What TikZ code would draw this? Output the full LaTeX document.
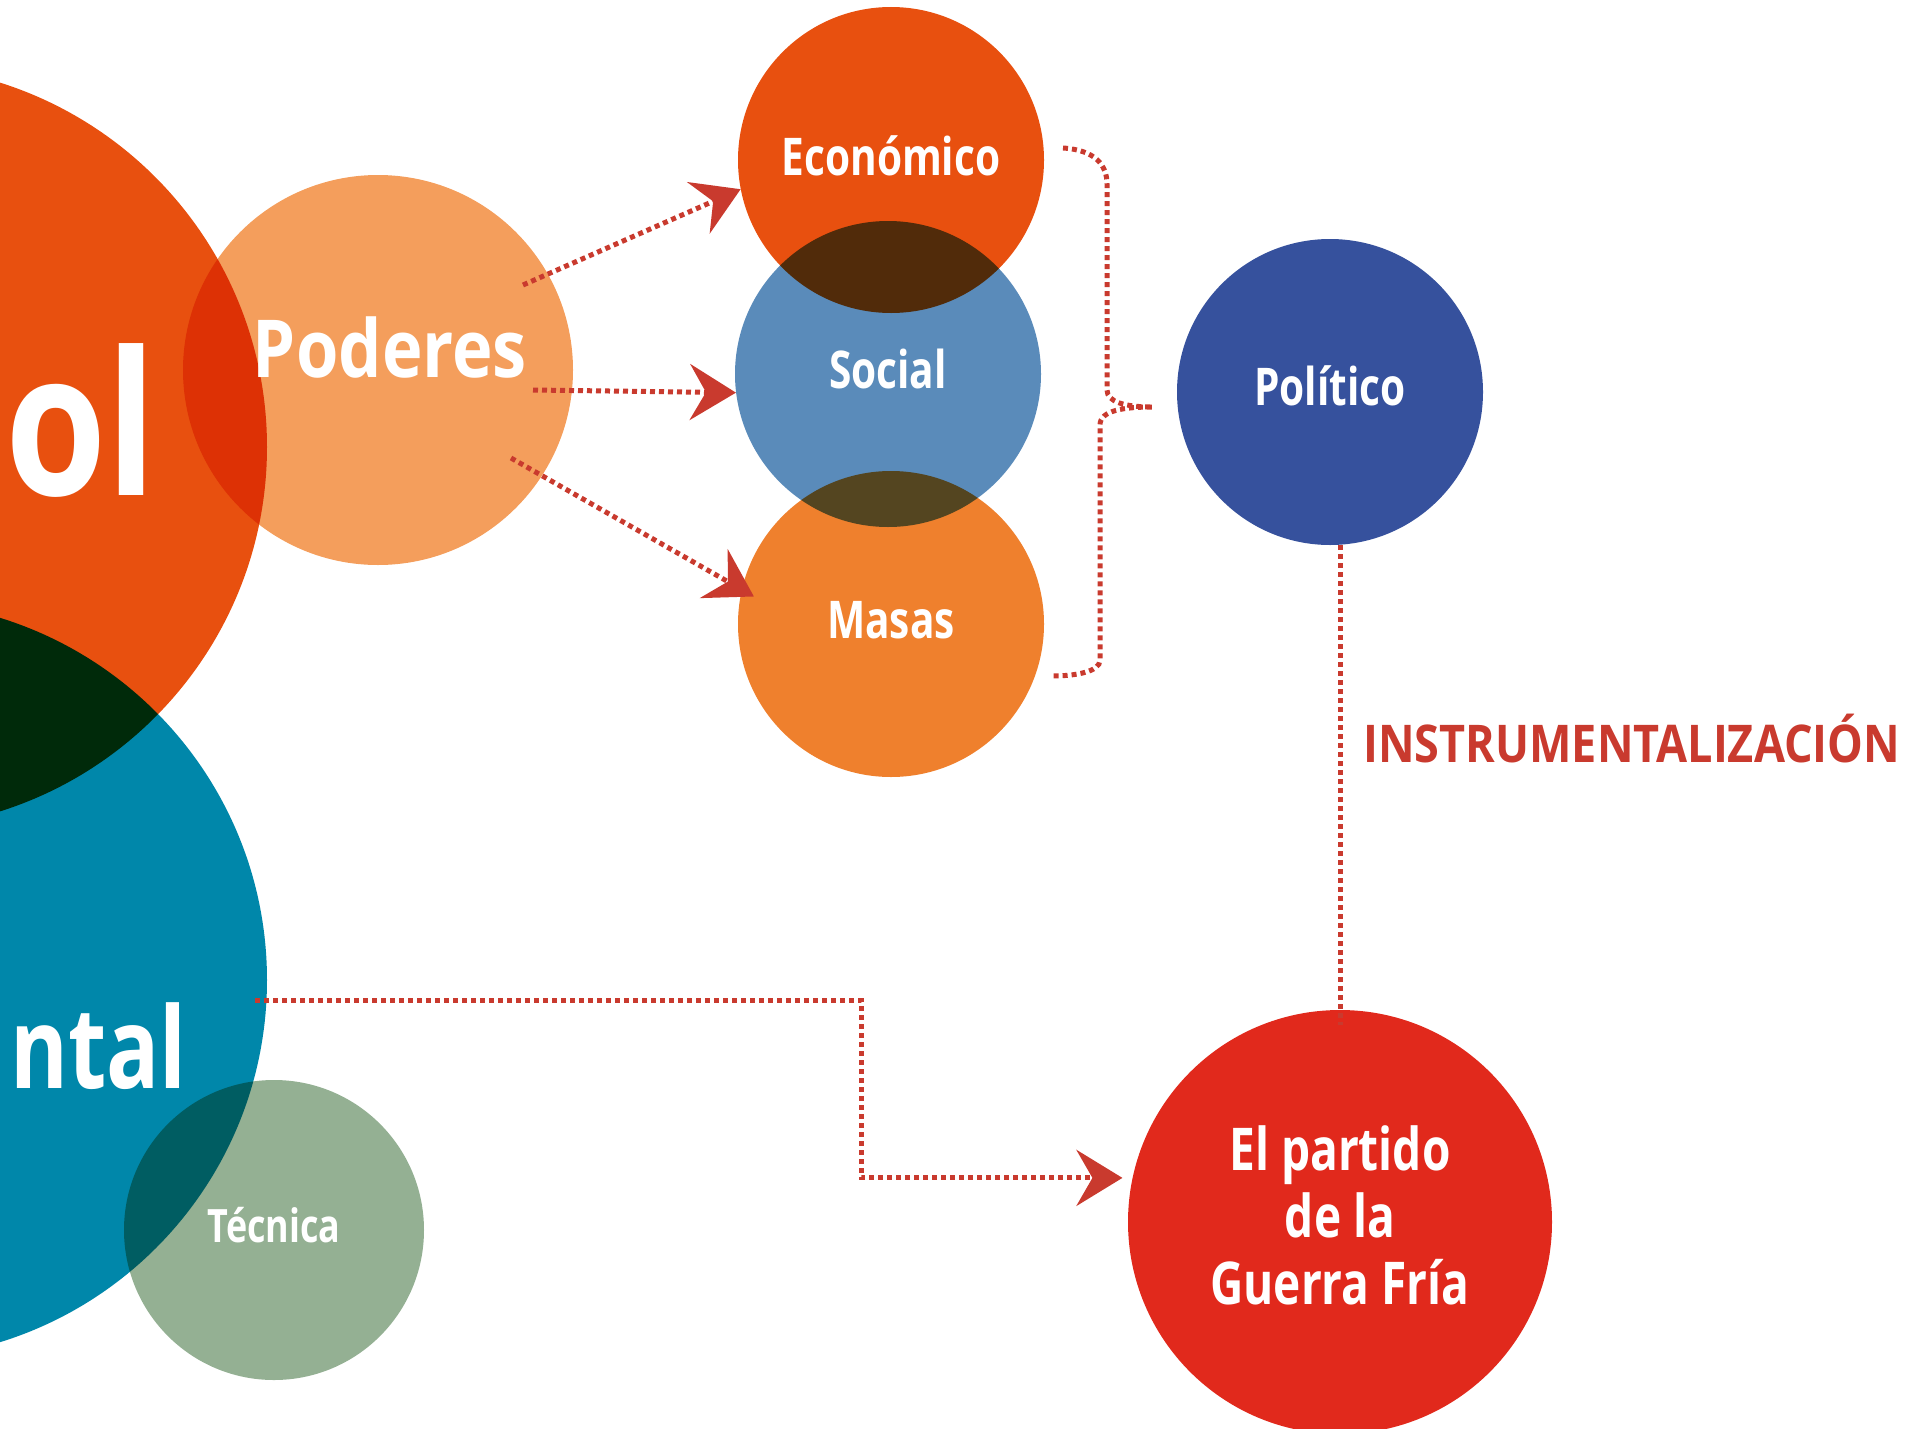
\documentclass[tikz,border=0pt]{standalone}
\usepackage{fontspec}
\setmainfont{Open Sans}[FakeStretch=0.78]
\usepackage{tikz}
\usetikzlibrary{arrows.meta, positioning}

\definecolor{ctrlorange}{HTML}{E8500F}
\definecolor{ctrlblue}{HTML}{0087AA}
\definecolor{poderes}{HTML}{F49E5C}
\definecolor{economico}{HTML}{E8500F}
\definecolor{social}{HTML}{5A8BBA}
\definecolor{masas}{HTML}{EF802D}
\definecolor{politico}{HTML}{36519D}
\definecolor{guerra}{HTML}{E1291C}
\definecolor{tecnica}{HTML}{94B093}
\definecolor{linkred}{HTML}{C93A2E}

\begin{document}
\begin{tikzpicture}[x=1pt, y=-1pt,
    bubble/.style={circle, inner sep=0pt, minimum size=#1},
    lbl/.style={text=white, inner sep=0pt, anchor=base, font=\bfseries\fontsize{#1}{#1}\selectfont},
    dotlink/.style={draw=linkred, line width=5pt, dash pattern=on 5pt off 4pt},
    dotarrow/.style={dotlink, -{Stealth[length=46pt, width=56pt, inset=16pt]}}]
    \useasboundingbox (0,0) rectangle (1911,1429);
    \clip (0,0) rectangle (1911,1429);

    \begin{scope}[blend mode=multiply]
        \node[bubble=764pt, fill=ctrlorange] (ctrl) at (-115,447) {};
        \node[bubble=758pt, fill=ctrlblue] (instr) at (-112,980) {};
        \node[bubble=390pt, fill=poderes] (pod) at (378,370) {};
        \node[bubble=300pt, fill=tecnica] (tec) at (274,1230) {};
        \node[bubble=306pt, fill=economico] (eco) at (891,160) {};
        \node[bubble=306pt, fill=social] (soc) at (888,374) {};
        \node[bubble=306pt, fill=masas] (mas) at (891,624) {};
        \node[bubble=306pt, fill=politico] (pol) at (1330,392) {};
        \node[bubble=424pt, fill=guerra] (gue) at (1340,1222) {};
    \end{scope}

    \node[lbl=200, anchor=base east] (ctrlT) at (157,495) {\scalebox{1.05}[1]{ol}};
    \node[lbl=113, anchor=base east] (instrT) at (187,1088) {ntal};
    \node[lbl=80] (podT) at (390,377) {\scalebox{1.1}[1]{Poderes}};
    \node[lbl=46] (tecT) at (274,1242) {Técnica};
    \node[lbl=52] (ecoT) at (891,175) {Económico};
    \node[lbl=52] (socT) at (888,388) {Social};
    \node[lbl=52] (masT) at (891,638) {Masas};
    \node[lbl=52] (polT) at (1330,405) {Político};
    \node[lbl=59, anchor=center, align=center, font=\bfseries\fontsize{59}{67}\selectfont] (gueT) at (1340,1215) {El partido\\de la\\Guerra Fría};
    \node[text=linkred, inner sep=0pt, anchor=base west, font=\bfseries\fontsize{52}{52}\selectfont] (instrL) at (1363,762) {\scalebox{1.11}[1]{INSTRUMENTALIZACIÓN}};

    \coordinate (pa) at (523,285);
    \coordinate (pb) at (533,390);
    \coordinate (pc) at (511,458);
    \draw[dotarrow] (pa) -- (eco.191);
    \draw[dotarrow] (pb) -- (soc.187);
    \draw[dotarrow, shorten >=-14pt] (pc) -- (mas.167);

    \coordinate (braceTop) at (1063,148);
    \coordinate (braceTip) at (1153,407);
    \coordinate (braceEnd) at (1051,676);
    \draw[dotlink] (braceTop) .. controls (1095,150) and (1107,165) .. (1107,184) -- (1107,390)
        .. controls (1107,402) and (1125,407) .. (braceTip)
        .. controls (1125,407) and (1100,410) .. (1100,425) -- (1100,660)
        .. controls (1100,672) and (1075,676) .. (braceEnd);

    \draw[dotlink] (pol.south -| gue.north) -- ([yshift=-15pt]gue.north);

    \coordinate (bl) at (255,1000);
    \draw[dotarrow, shorten >=10pt] (bl) -- (861,1000) |- (gue.168);
\end{tikzpicture}
\end{document}
